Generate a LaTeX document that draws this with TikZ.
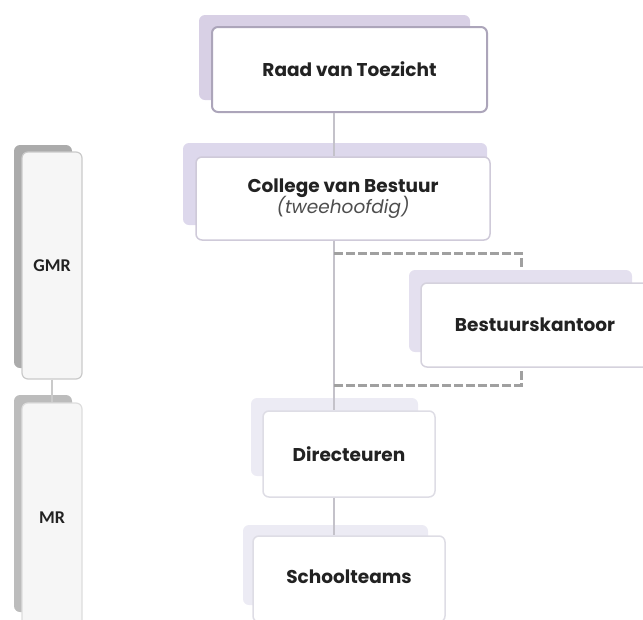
\documentclass[tikz,border=0pt]{standalone}
\usepackage{fontspec}
\setmainfont{Poppins}
\newfontfamily\gmrfont{Carlito}
\usetikzlibrary{calc}
\definecolor{txt}{HTML}{222222}
\definecolor{shA}{HTML}{D8D0E5}
\definecolor{shB}{HTML}{DDD8EC}
\definecolor{shC}{HTML}{E4E0EF}
\definecolor{shD}{HTML}{ECEBF4}
\definecolor{bdA}{HTML}{ACA5BA}
\definecolor{bdB}{HTML}{CFCAD9}
\definecolor{bdC}{HTML}{D5D2DD}
\definecolor{bdD}{HTML}{DEDDE5}
\definecolor{grayshadow}{HTML}{ABABAB}
\definecolor{grayfront}{HTML}{F6F6F6}
\definecolor{grayborder}{HTML}{CACACA}
\definecolor{conn}{HTML}{C4C2CA}
\definecolor{dashc}{HTML}{A0A0A0}
\tikzset{
  labelfont/.style={font=\fontsize{18.5}{21}\selectfont\bfseries, text=txt},
  front/.style={draw, fill=white, rounded corners=6pt, line width=1.5pt, inner sep=0pt,
    labelfont, align=center},
  shadowbox/.style={rounded corners=6pt},
  sidebox/.style={draw=grayborder, fill=grayfront, rounded corners=6pt, line width=1.2pt,
    minimum width=60pt, inner sep=0pt, font=\gmrfont\fontsize{18}{21}\selectfont\bfseries, text=txt},
  connector/.style={draw=conn, line width=1.5pt},
  dashconn/.style={draw=dashc, line width=3pt, dash pattern=on 9pt off 3pt}
}
\begin{document}
\begin{tikzpicture}[x=1pt,y=-1pt]
\useasboundingbox (0,0) rectangle (643,619);
% shadows
\fill[shA, shadowbox] (199,15) rectangle (470,100);
\fill[shB, shadowbox] (183,143) rectangle (487,225);
\fill[shC, shadowbox] (409,270) rectangle (632,352);
\fill[shD, shadowbox] (251,398) rectangle (418,476);
\fill[shD, shadowbox] (243,525) rectangle (428,605);
\fill[grayshadow, shadowbox] (14,145) rectangle (72,368);
\fill[grayshadow!80, shadowbox] (14,395) rectangle (72,612);
% side boxes
\node[sidebox, minimum height=227pt] (gmr) at (52,265.5) {GMR};
\node[sidebox, draw=grayfront!90!black, minimum height=230pt] (mr) at (52,518) {MR};
\draw[connector, draw=grayborder] (gmr.south) -- (mr.north);
% spine
\coordinate (spine) at (334,0);
% main boxes
\node[front, draw=bdA, line width=2pt, minimum width=275pt, minimum height=85pt] (rvt) at (349.5,69.5) {Raad van Toezicht};
\node[front, draw=bdB, minimum width=294pt, minimum height=83pt] (cvb) at (343,198.5)
  {College van Bestuur\\[-2pt]{\mdseries\itshape\color{txt!80}(tweehoofdig)}};
\node[front, draw=bdC, minimum width=240pt, minimum height=84pt] (bk) at (541,325) {};
\node[labelfont] (bkt) at (535,325) {Bestuurskantoor};
\node[front, draw=bdD, minimum width=172pt, minimum height=86pt] (dir) at (349,454) {Directeuren};
\node[front, draw=bdD, minimum width=192pt, minimum height=86pt] (st) at (349,579) {};
\node[labelfont] (stt) at (349,577) {Schoolteams};
% connectors
\draw[connector] (spine |- rvt.south) -- (spine |- cvb.north);
\draw[connector] (cvb.south -| spine) -- (spine |- dir.north);
\draw[connector] (spine |- dir.south) -- (spine |- st.north);
\coordinate (dtop) at (521,253);
\coordinate (dbot) at (521,385);
\draw[dashconn] (spine |- dtop) -- (dtop) -- ($(dtop |- bk.north)+(0,-13)$);
\draw[dashconn] ($(dbot |- bk.south)+(0,3)$) -- (dbot) -- (spine |- dbot);
\end{tikzpicture}
\end{document}
